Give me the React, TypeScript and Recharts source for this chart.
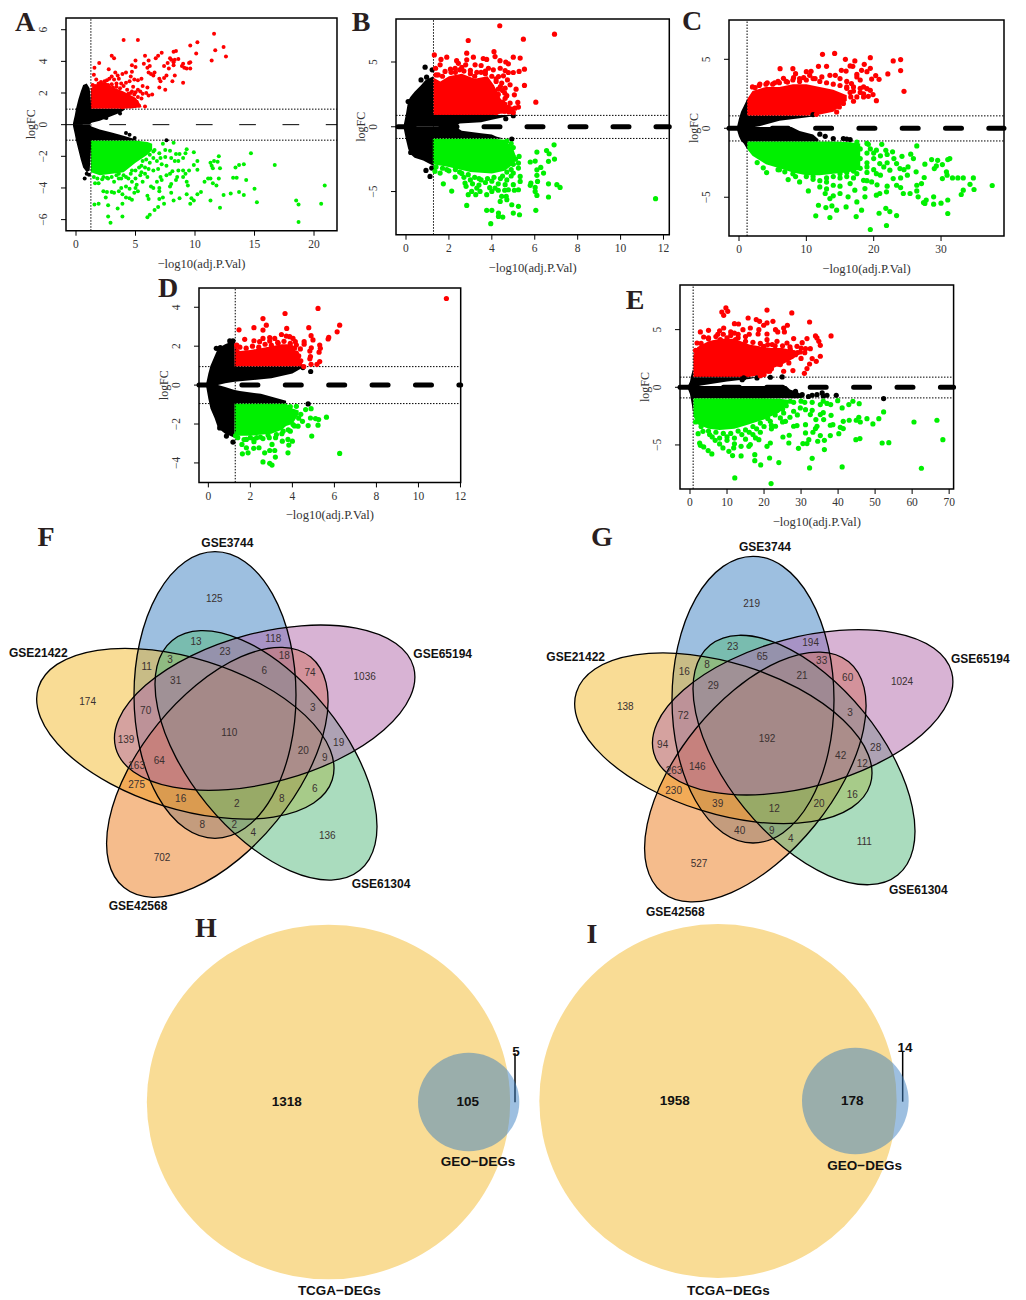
import {
  ComposedChart,
  ScatterChart,
  Scatter,
  Area,
  XAxis,
  YAxis,
  ReferenceLine,
  ReferenceArea,
} from "recharts";

type Pair = number[];

// ---- panel A ----
const aBlackUp = [[-0.25,0,0.1],[-0.1,0,0.6],[0,0,1.0],[0.2,0,1.6],[0.4,0,2.1],[0.6,0,2.5],[0.9,0,2.6],[1.15,0,2.3],[1.3,0.12,1],[2,0.25,1],[3,0.55,1],[3.7,0.75,1],[4.1,0.95,1]];
const aBlackDown = [[-0.25,-0.1,0],[-0.1,-0.6,0],[0,-1.0,0],[0.2,-1.6,0],[0.4,-2.2,0],[0.6,-2.7,0],[0.9,-3.0,0],[1.15,-2.9,0],[1.3,-1,-0.12],[2,-1,-0.3],[3,-1,-0.5],[4,-1,-0.7],[5,-1,-0.92]];
const aRedBand = [[1.25,1,2.3],[1.8,1,2.6],[2.5,1,2.7],[3,1,2.4],[4,1,2.1],[5,1.05,1.7],[5.3,1.1,1.4],[5.5,1.1,1.15]];
const aGreenBand = [[1.25,-3,-1],[2,-3.2,-1],[3,-3.1,-1],[4,-3,-1],[5,-2.4,-1],[6,-1.9,-1.1],[6.4,-1.6,-1.2]];
const aBlack: Pair[] = [[7.6,-0.99],[0.73,-3.41],[1.09,-3.16],[4.2,-0.53],[4.5,-0.63],[4.93,-0.84],[2.55,0.42],[2.4,0.45],[3.7,0.7],[0.9,-3.1]];
const aRed: Pair[] = [[11.6,5.75],[4,5.35],[5.2,5.35],[12.4,4.9],[10.2,5.2],[9.6,5],[11.7,4.7],[10.1,4.5],[11.4,4.05],[12.6,4.3],[3,4.35],[3.2,4.2],[5.8,4.35],[7.2,4.55],[6.9,4.35],[6.7,4.2],[8.2,4.6],[8.4,4.65],[7.9,4.2],[8,4.1],[8.3,4.1],[8.6,4.15],[8.2,3.95],[9,3.85],[9.6,3.95],[9.5,3.9],[9.1,3.6],[9.3,3.55],[9.6,3.55],[8.9,3.7],[7.7,3.9],[8.2,3.75],[7.8,3.55],[7.4,3.7],[1.95,3.9],[1.55,3.6],[2.75,3.5],[5,4.05],[4.7,3.75],[5,3.65],[6.1,4.05],[5.7,3.85],[6.2,3.7],[6,3.6],[6.1,3.3],[6.3,3.2],[6.5,3.1],[6.6,3.3],[7,2.9],[7.4,2.95],[7.1,2.75],[7.6,3.1],[8.1,2.75],[8.3,3.1],[9,2.65],[7,2.35],[7.5,2.2],[6,2.35],[6.4,1.9],[6.1,1.85],[5.8,1.15],[5.1,1.45],[1.5,3.15],[1.7,2.85],[2.1,2.7],[2.6,2.8],[3,3.05],[3.3,3.3],[3.5,3.1],[3.6,2.9],[3.2,2.85],[2.8,2.9],[3.9,3.2],[4.2,3.3],[4.7,3.35],[4.6,3.05],[4.9,2.85],[4.5,2.75],[4.2,2.65],[3.8,2.6],[3.4,2.6],[3,2.55],[5.5,2.9],[5.2,2.8],[5.6,2.45],[5.2,2.2],[4.8,2.4],[5.4,2.1],[5,2.05],[4.7,2.1],[4.4,1.95],[5.5,1.65]];
const aRedMore: Pair[] = [[1.4,2.5],[1.6,2.45],[1.9,2.6],[2.2,2.55],[2.4,2.75],[2.7,2.5],[3.1,2.35],[3.4,2.4],[3.7,2.3],[4,2.45],[4.3,2.2],[4.6,2],[4.9,1.9],[5.2,1.75],[5.6,1.95],[5.9,2],[4.1,1.8],[4.4,1.5],[4.7,1.6],[5,1.3],[5.3,1.2],[4.6,1.15],[3.9,1.1]];
const aGreen: Pair[] = [[20.9,-3.85],[16.7,-2.55],[14.7,-1.8],[12,-2],[11.9,-2.35],[11.6,-2.3],[11.3,-2.4],[11.4,-2.6],[11.5,-2.75],[12.1,-2.75],[14.1,-2.5],[13.7,-2.55],[13.4,-2.7],[13.2,-3.35],[13.5,-3.35],[14.3,-3.5],[11.3,-3.4],[11.1,-3.4],[12,-3.4],[10.8,-3.6],[11.5,-3.7],[11.8,-3.85],[15,-4.05],[13.7,-4.25],[14.1,-4.45],[13,-4.35],[12.4,-4.45],[10.5,-4.25],[10.2,-4.4],[9.7,-4.65],[9.9,-4.8],[11.3,-4.8],[15.2,-4.9],[9.6,-5],[18.5,-4.8],[18.7,-5.05],[20.6,-5],[18.7,-6.15],[12.1,-5.25],[9.3,-4.4],[8.7,-4.65],[8,-4.3],[8.2,-4.8],[6,-5.85],[6.2,-5.7],[6.6,-5.4],[6.9,-5.2],[7.4,-5],[7,-4.7],[7.3,-4.6],[2.7,-5.1],[1.55,-5.05],[1.9,-5],[2.7,-5.8],[2.9,-6.2],[3.9,-5.8],[3.5,-5.3],[3.9,-5],[2.5,-4.6],[4.2,-4.6],[4.5,-4.65],[4.7,-4.75],[2.3,-4.2],[2.6,-4.25],[3,-4.25],[3.2,-4.3],[3.6,-4.2],[3.8,-4],[3.9,-4.4],[4.5,-4.05],[5,-4],[5.2,-4.2],[6,-4.5],[6.1,-4.7],[6.5,-4],[7,-4],[7,-4.2],[7.9,-3.9],[5.5,-1.2],[5.6,-1.6],[6,-1.3],[6.6,-1.6],[7,-1.8],[7.3,-1.2],[7.5,-1.6],[8.2,-1.15],[7.9,-1.65],[8.4,-1.85],[8.7,-1.85],[9.2,-1.8],[9.3,-1.55],[9.9,-1.75],[8,-2.1],[7.5,-2.05],[8.3,-2.3],[9,-2.1],[8.6,-2.3],[9.9,-2.55],[10.2,-2.3],[10.2,-2.85],[9.5,-2.9],[9,-2.9],[9.2,-3.1],[8.6,-2.9],[8.1,-2.95],[7.9,-3.1],[8.5,-3.3],[9,-3.3],[9.3,-3.6],[9.4,-3.85],[8.4,-3.5],[8,-3.75],[7.6,-3.2],[7.1,-3.3],[6.8,-3.6],[7.2,-3.5],[6.5,-2.9],[6.9,-2.8],[7.2,-2.5],[7.6,-2.6],[6.2,-2.4],[6.5,-2.1],[5.8,-2.7],[5.5,-2.6],[6,-3.3],[5.4,-3.2],[5.6,-3.6],[6.3,-3.9],[5,-3.4],[4.7,-3.6],[4.4,-3.4],[4,-3.2],[3.6,-3.4],[3.2,-3.6],[2.7,-3.4],[2.2,-3.45],[1.6,-3.7],[1.9,-3.7],[3.6,-3.1],[5.1,-3.8],[4.9,-4.3],[4.2,-3.9]];
const aGreenMore: Pair[] = [[1.5,-3.3],[1.8,-3.4],[2.3,-3.3],[2.6,-3.35],[3,-3.3],[3.4,-3.2],[3.8,-3.4],[4.2,-3.3],[4.6,-3.1],[5,-2.9],[5.3,-2.7],[5.6,-2.3],[5.9,-2.2],[6.2,-1.9],[6.5,-1.7],[6.8,-2.3],[7.1,-2.1],[5.5,-3],[5.8,-3.1],[6.1,-2.8],[4.7,-2.9],[5.2,-1.3],[5.9,-1.6]];

// ---- panel B ----
const bBlackUp = [[-0.1,0,0.2],[0,0,1],[0.1,0,2],[0.2,0,2.3],[0.4,0,2.7],[0.7,0,3.2],[0.9,0,3.6],[1.27,0,3.9],[1.28,0,0.9],[2.3,0,0.9],[2.5,0.25,0.9],[3.5,0.35,0.9],[4,0.55,0.9],[4.6,0.75,0.9],[4.9,0.88,0.9]];
const bBlackDown = [[-0.1,-0.2,0],[0,-1,0],[0.1,-1.7,0],[0.2,-2.1,0],[0.4,-2.4,0],[0.8,-2.6,0],[1.27,-3,0],[1.28,-0.9,0],[2.3,-0.9,0],[2.6,-0.9,-0.3],[3.5,-0.9,-0.5],[4,-0.9,-0.6],[4.2,-0.9,-0.75],[4.5,-0.92,-0.88]];
const bRedBand = [[1.27,0.9,3.8],[1.6,0.9,3.5],[2,0.9,3.9],[2.6,0.9,4.1],[3.2,0.9,3.7],[3.8,0.9,3.9],[4.1,0.9,3.2],[4.4,1,2.2],[4.7,1.05,1.5],[5.1,1.1,1.2]];
const bGreenBand = [[1.25,-2.9,-0.9],[2,-3.1,-0.9],[3,-3.5,-0.9],[4,-3.6,-0.9],[4.6,-3.4,-1],[5,-2.9,-1.7],[5.1,-2.6,-2.2]];
const bBlack: Pair[] = [[0.89,4.6],[1.22,4.4],[0.7,3.62],[0.96,3.83],[0.93,-3.37],[1.12,-3.83],[1.2,-3.19],[0.22,-1.98],[5,0.85],[4.65,0.62],[4.93,-0.95],[0.1,1.95]];
const bRed: Pair[] = [[4.37,7.8],[6.92,7.15],[5.47,6.76],[2.9,6.66],[1.32,5.55],[1.63,5.2],[1.9,5.37],[2.83,5.68],[4.1,5.8],[3.14,5.37],[4.15,5.42],[3.6,5.27],[3.76,5.2],[4.38,5.1],[5,5.37],[5.32,5.3],[4.65,5],[4.77,4.86],[2.36,5.1],[2.44,4.9],[2.83,5.17],[2.78,4.78],[1.59,4.78],[1.38,4.52],[1.82,4.27],[2.07,4.45],[2.29,4.52],[2.6,4.58],[3.22,4.78],[3.5,4.73],[3.84,4.52],[4.07,4.4],[4.39,4.52],[4.62,4.34],[4.77,4.19],[5,4.19],[5.27,4.27],[5.52,4.45],[5.52,3.19],[5.13,2.9],[5.05,2.47],[6.05,1.9],[5.21,1.88],[4.85,3.24],[4.62,2.98],[4.73,3.62],[4.46,3.37],[4.31,3.88],[4.54,3.93],[4.62,2.2],[4.85,1.83],[4.77,1.52],[5.08,1.44],[5.24,1.52],[4.93,1.36],[4.46,1.57],[3,4.35],[3.3,4.2],[3.7,4.3],[2.3,4.2],[1.5,4],[4.2,3.7],[4.5,2.8],[4.3,2.5],[4.6,1.75]];
const bRedMore: Pair[] = [[1.4,4],[1.7,3.9],[2.1,4.2],[2.5,4.4],[2.7,4.3],[3,4.1],[3.2,3.9],[3.5,4.2],[3.7,4.1],[4,3.9],[4.2,3.5],[4.4,3.1],[4.6,2.6],[4.7,2.4],[4.3,2.9],[4.5,1.9],[4.4,1.3],[4.6,1.2],[4.8,1.15],[5,1.1],[4.2,1.1]];
const bGreen: Pair[] = [[6.9,-1.39],[6.1,-1.95],[6.55,-1.83],[6.67,-2.08],[6.02,-2.65],[5.79,-2.72],[6.64,-2.67],[6.92,-2.49],[6.28,-3.14],[6.1,-3.32],[6.41,-3.57],[6.1,-3.75],[6.13,-4.22],[5.82,-4.34],[5.79,-4.52],[6.64,-4.4],[7.03,-4.47],[7.18,-4.68],[6.02,-4.68],[6.02,-4.99],[6.1,-5.3],[6.64,-5.42],[11.63,-5.55],[6.05,-6.45],[5.24,-6.14],[5.29,-6.79],[5,-6.66],[4.93,-6.02],[3.95,-7.48],[4.51,-6.97],[4.31,-6.92],[4.31,-6.66],[4,-6.45],[3.76,-6.45],[2.83,-6.07],[1.74,-4.4],[2.13,-4.96],[2.29,-3.88],[2.75,-4.34],[2.9,-5.24],[3.06,-4.99],[3.3,-4.73],[3.25,-5.24],[3.45,-4.99],[3.76,-5.24],[4,-4.99],[4.15,-4.73],[4.46,-5.37],[4.39,-5.76],[4.7,-5.63],[4.67,-5.37],[4.77,-4.86],[5,-4.47],[5.24,-4.86],[4.62,-4.47],[5.32,-3.83],[5.32,-4.22],[5,-3.57],[5.24,-3.19],[5.24,-2.8],[5.27,-2.29],[1.35,-3.44],[1.59,-3.57],[1.9,-3.3],[2.5,-3.5],[2.8,-4.6],[3,-4.1],[3.4,-4],[3.7,-4.3],[4,-4.2],[4.3,-4.4],[4.7,-4.1],[4.9,-3.8],[4.5,-3.8],[5,-2.3]];
const bGreenMore: Pair[] = [[1.4,-3.1],[1.7,-3.2],[2,-3.4],[2.3,-3.3],[2.6,-3.6],[2.9,-3.7],[3.2,-3.9],[3.5,-4.1],[3.8,-4],[4.1,-3.9],[4.4,-4],[4.7,-3.5],[4.9,-3.3],[5,-2.9],[5.1,-2.5],[3.1,-4.4],[3.4,-4.5],[3.9,-4.7],[4.3,-4.9],[4.6,-4.9],[5.05,-4.9],[2.7,-3.9],[5,-1.6],[4.9,-1.3],[4.7,-1.1]];

// ---- panel C ----
const cBlackUp = [[-0.3,0,0.1],[0,0,0.7],[0.3,0,1.2],[0.7,0,1.6],[1.2,0,2.1],[1.21,0,0.9],[1.4,0.02,0.9],[3,0.15,0.9],[6,0.55,0.9],[9,0.72,0.9],[11,0.86,0.9]];
const cBlackDown = [[-0.3,-0.1,0],[0,-0.6,0],[0.3,-0.9,0],[0.7,-1.1,0],[1.2,-1.5,0],[1.21,-0.95,0.1],[7.8,-0.95,0.1],[9,-0.95,-0.2],[11,-0.95,-0.45],[11.8,-0.95,-0.8]];
const cRedBand = [[1.2,0.9,2.1],[2,0.9,2.7],[4,0.9,3],[6,0.9,3],[8,0.9,3.2],[10,0.9,3.2],[12,1,3],[14,1.2,2.8],[15,1.6,2.6],[16,2,2.4]];
const cGreenBand = [[1.2,-1.5,-0.95],[2,-2,-0.95],[4,-2.6,-0.95],[6,-2.9,-0.95],[8,-3.2,-0.95],[10,-3.4,-0.95],[12,-3.4,-0.95],[14,-3.3,-0.95],[16,-3.2,-1],[18,-3,-1.1]];
const cBlack: Pair[] = [[12,-0.43],[12.8,-0.58],[14,-0.75],[15.5,-0.75],[16.5,-0.82],[16,-0.78],[11,0.99]];
const cRed: Pair[] = [[12.4,5.36],[14.2,5.43],[19.5,5.12],[15.8,5],[17.2,4.88],[22.9,4.88],[24,4.98],[18.6,4.64],[19.5,4.35],[11.8,4.49],[13,4.49],[16.5,4.52],[16.9,4.49],[15.2,4.2],[15.9,4.15],[18.2,4.2],[17.5,3.91],[19,4.1],[20.3,3.82],[22.1,3.94],[24,4.18],[6.1,4.32],[8,4.32],[8.4,3.96],[10,4.1],[10.7,4.13],[6.6,3.62],[8.1,3.67],[3.1,3.21],[4.2,3.3],[5.3,3.3],[5.8,3.4],[20.8,3.55],[19.7,3.57],[24.5,2.68],[20.4,2],[19.9,2.44],[19.2,2.32],[18.5,2.27],[17,1.96],[17.5,2.27],[16.6,2.27],[14.5,1.18],[14.9,1.55],[11.5,1.01],[13.3,1.43],[19,2.87],[19.5,2.75],[18.5,3],[18,3.5],[16.7,3.24],[17.5,3.72],[16,3.4],[15,3.6],[14.3,3.84],[13.5,3.84],[12.3,3.72],[11.3,3.6],[10.5,3.84],[9.6,3.67],[2.4,2.95],[7.2,3.35],[9,3.4],[16,2.9],[17,2.7],[18,2.6],[15.5,2.2]];
const cRedMore: Pair[] = [[2,3],[3,3.1],[4,3.2],[5,3.2],[6,3.3],[7,3.4],[8,3.5],[9,3.6],[10,3.5],[11,3.6],[12,3.4],[13,3.3],[14,3.2],[15,3.1],[16,3],[17,3],[18,2.9],[14,2.4],[15,2.1],[15.5,1.8],[13.5,1.6],[12.5,1.3],[16.5,2.6],[18.5,2.5]];
const cGreen: Pair[] = [[19.5,-7.34],[21.9,-7.05],[13.5,-6.47],[11.4,-6.35],[17.4,-6.4],[20.8,-6.16],[21.8,-5.8],[22.4,-6.04],[23.4,-6.33],[31,-6.18],[31,-5.2],[30,-5.43],[28.9,-5.5],[28.9,-4.97],[27.8,-5.2],[27.4,-5.38],[27.6,-5.45],[37.6,-4.15],[34.9,-4.44],[34.8,-3.6],[34.3,-4.06],[33.3,-4.49],[33,-4.8],[33.3,-3.6],[32.5,-3.6],[31.7,-3.6],[30.8,-3.16],[30.2,-3.65],[30.9,-3.4],[30.2,-2.63],[31,-2.27],[31.3,-2.2],[29.5,-2.32],[28.6,-2.27],[29.3,-2.73],[27.6,-2.6],[29,-2.92],[26.4,-1.28],[25.5,-1.88],[25.9,-2.2],[25.1,-2.8],[26.3,-3.16],[27.5,-3.57],[27.1,-4.01],[26.4,-4.13],[26.4,-4.54],[25.4,-4.73],[26.6,-4.97],[24.4,-4.73],[22.8,-1.71],[24.2,-2.03],[23.4,-2.56],[23.9,-2.92],[22.4,-3.04],[22.9,-3.65],[23.4,-4.13],[21.9,-4.61],[20.9,-4.73],[20.4,-4.85],[21.2,-1.16],[20.4,-1.59],[19.2,-1.16],[20.9,-2.56],[20.4,-3.29],[19.7,-3.89],[18.7,-4.37],[18.7,-4.97],[17.5,-5.34],[18.2,-5.94],[15.9,-5.7],[14.5,-5.94],[13.8,-5.63],[12.9,-5.75],[11.8,-5.58],[10.3,-4.54],[12.8,-4.73],[13.5,-5.1],[16.2,-4.97],[15,-4.73],[17.2,-4.49],[16.5,-4.01],[14,-4.13],[18.5,-3.77],[17.5,-3.29],[12,-4.25],[9,-3.89],[7.3,-3.72],[4.1,-3.21],[3.6,-2.87],[2.7,-2.49],[5.8,-3],[6.8,-3.16],[8.4,-3.5],[11,-3.7],[13,-3.9],[15,-3.6],[16,-3.5],[19,-2.8],[18,-2.2],[19,-1.8],[20,-2.2],[21.5,-2.8],[19,-3.2]];
const cGreenMore: Pair[] = [[13,-3.6],[14,-3.5],[15,-3.3],[16,-3.2],[17,-3.1],[18,-2.9],[19,-2.5],[20,-3],[21,-3.4],[22,-2.5],[21,-2],[22,-1.9],[23,-2.2],[24.5,-3],[24,-3.6],[25,-3.4],[19,-3.8],[20.5,-4.1],[22,-4.2],[24,-4.3],[17,-3.6],[15,-4.2],[13,-4.4],[14,-4.9],[12,-3.8],[11,-3.5],[10,-3.5],[8,-3.3],[6,-3],[18,-1.5],[19.5,-1.5],[19,-1.1],[17.5,-1],[16.5,-1.2],[20,-1.8],[21.8,-1.6]];

// ---- panel D ----
const dBlackUp = [[-0.1,0,0.1],[0,0,0.6],[0.1,0,1],[0.3,0,1.5],[0.46,0,1.9],[0.8,0.1,2.1],[1.25,0.17,2.3],[1.26,0.17,0.95],[1.5,0.2,0.95],[3,0.35,0.95],[4,0.6,0.95],[4.5,0.9,0.95]];
const dBlackDown = [[-0.1,-0.1,0],[0,-0.7,0],[0.1,-1.2,0],[0.3,-1.7,0],[0.46,-2.2,0],[0.8,-2.5,-0.1],[1.25,-2.7,-0.25],[1.26,-0.95,-0.25],[1.5,-0.95,-0.3],[2.5,-0.95,-0.45],[3.7,-0.95,-0.8]];
const dRedBand = [[1.25,0.95,2.1],[1.5,0.95,1.75],[2,0.95,1.8],[3,0.95,2],[3.5,0.95,2.1],[4,0.95,2.1],[4.2,0.95,1.6],[4.5,0.95,1.05]];
const dGreenBand = [[1.25,-2.6,-0.95],[2,-2.6,-0.95],[3,-2.5,-0.95],[3.5,-2.3,-0.95],[3.7,-2.1,-0.95],[4,-2,-1.2],[4.3,-1.5,-1.3]];
const dBlack: Pair[] = [[4.87,0.7],[4.75,-0.97],[4.5,0.9],[0.54,-2.2],[0.86,-2.62],[1.17,-2.93],[0.38,1.89],[1.02,2.27],[1.17,2.27],[0.57,1.93]];
const dRed: Pair[] = [[11.33,4.45],[5.22,3.94],[3.65,3.68],[2.6,3.42],[2.76,3.08],[1.46,2.84],[2.17,2.95],[2.6,2.83],[3.73,2.91],[4.78,2.95],[6.25,3.08],[6.13,2.74],[5.73,2.45],[5.7,2.37],[4.89,2.54],[4.98,2.32],[3.48,2.6],[3.71,2.52],[3.87,2.49],[1.73,2.35],[2.17,2.28],[2.44,2.23],[2.6,2.4],[2.92,2.44],[3.16,2.4],[2.92,2.27],[3.32,2.15],[4.03,2.4],[4.14,2.23],[4.19,2.06],[4.56,2.23],[4.56,2.1],[4.38,1.86],[4.19,1.64],[4.03,1.47],[5.3,2.06],[5.33,1.89],[5.27,1.69],[4.9,1.92],[4.83,1.75],[4.86,1.47],[4.83,1.35],[5.3,1.21],[5.17,1.07],[4.89,1.07],[4.27,1.29],[4.54,0.95]];
const dRedMore: Pair[] = [[1.5,1.95],[1.8,1.9],[2.1,2],[2.4,1.95],[2.7,2.1],[3,2.05],[3.3,2.2],[3.6,2.25],[3.9,2.15],[4.1,1.9],[4.3,1.5],[4.4,1.25],[4.2,1.2],[1.35,2.05]];
const dGreen: Pair[] = [[6.25,-3.51],[5.62,-1.65],[5.22,-2.06],[5.25,-1.77],[5.1,-1.72],[4.86,-1.69],[4.75,-2.08],[4.92,-2.62],[4.89,-1.21],[4.63,-1.26],[4.19,-1.09],[4.48,-1.86],[4.27,-2.11],[4.03,-2.03],[3.9,-2.37],[3.79,-2.79],[4,-2.88],[3.83,-3.08],[3.79,-3.48],[3.19,-3.7],[3.03,-3.05],[3.16,-3.36],[2.92,-3.36],[2.68,-3.48],[2.6,-3.95],[2.92,-4.02],[3.03,-4.11],[2.41,-3.22],[2.16,-3.25],[1.81,-3.22],[1.89,-3.48],[1.62,-3.53],[1.6,-3.05],[1.81,-2.79],[2.17,-2.79],[2.17,-2.91],[2.48,-2.67],[2.84,-2.57],[3.24,-2.54],[3.52,-2.88],[3.56,-2.37]];
const dGreenMore: Pair[] = [[1.4,-2.7],[1.7,-2.8],[2,-2.7],[2.3,-2.7],[2.6,-2.75],[2.9,-2.7],[3.2,-2.7],[3.5,-2.5],[3.8,-2.3],[4.1,-2.1],[4.3,-1.7],[4.4,-1.5],[3.7,-1.9],[4.1,-1.4],[3.9,-1.1],[1.3,-2.6]];

// ---- panel E ----
const eBlackUp = [[-0.6,0,0.1],[0,0,0.5],[0.3,0,1],[0.85,0,1.6],[0.86,0,0.88],[3,0.15,0.88],[10,0.5,0.88],[16,0.72,0.88],[18,0.85,0.88]];
const eBlackDown = [[-0.6,-0.1,0],[0,-0.6,0],[0.5,-1.5,0],[0.85,-2.2,0],[0.86,-0.95,0.12],[26,-0.95,0.12],[27,-0.95,-0.2],[29,-0.95,-0.4],[30.5,-0.9,-0.7]];
const eRedBand = [[0.9,0.9,2.8],[2,0.9,3.5],[5,0.9,4],[8,0.9,4.2],[12,0.9,4.2],[16,0.9,3.7],[20,1.1,3.5],[22,1.6,3.4],[25,2,3.4],[28,2.5,3.2],[29,2.8,3.1]];
const eGreenBand = [[0.9,-2.5,-0.95],[2,-3.2,-0.95],[5,-3.6,-0.95],[8,-3.7,-0.95],[12,-3.6,-0.95],[16,-3.2,-0.95],[20,-2.8,-0.95],[24,-2.2,-1],[26,-1.6,-1.05],[27,-1.3,-1.1]];
const eBlack: Pair[] = [[52.3,-0.98],[39.5,-0.69],[35.7,-0.49],[34.3,-0.64],[33,-0.69],[37,-0.69],[28.5,-0.35],[30.3,-0.64],[21.7,0.87],[24.9,0.9],[18.1,0.81],[14.1,0.66],[14.5,0.81],[32,-0.8],[36,-0.75]];
const eRed: Pair[] = [[9.7,6.88],[10.2,6.59],[8.6,6.53],[9.1,6.24],[20.8,6.7],[27.5,6.45],[15.7,6.01],[32.3,5.66],[17.9,5.87],[18.8,5.72],[22.4,5.72],[20.8,5.58],[19.9,5.38],[26.3,5.38],[12,5.52],[13.1,5.49],[9.1,5.14],[5,4.94],[2.8,4.8],[14.3,5],[16.3,5.14],[18.6,5],[23.1,5],[25.3,5.14],[25.5,4.8],[23.7,4.8],[18.4,4.62],[20.8,4.62],[3.7,4.36],[5,4.28],[38.1,4.45],[33.9,4.45],[34.3,4.28],[34.8,3.99],[35.2,3.64],[31.6,4.22],[30.3,3.87],[28,4.22],[1.9,3.84],[32.5,3.35],[31.2,3.35],[29.8,3.06],[35.2,2.69],[33,2.49],[34.1,2.25],[32.3,2.02],[31.6,1.62],[30.9,1.21],[27.8,1.45],[26.7,2.11],[25.3,1.39],[24.4,1.97],[20.8,4.13],[23.5,3.99],[26.2,3.84],[27.1,3.27],[28.9,3.55],[28.5,2.83],[22.2,3.7],[19.9,3.55],[15,3.99],[12.3,4.13],[10,4.28],[8.2,4.13],[6.4,3.84],[11,4.8],[13,4.6],[7.5,4.6],[30,3.4],[23,2.2],[21.5,1.4]];
const eRedMore: Pair[] = [[1.5,3.2],[3,3.8],[5,4.2],[7,4.4],[9,4.6],[11,4.5],[13,4.3],[15,4.4],[17,3.9],[19,3.8],[21,3.7],[23,3.6],[25,3.6],[27,3.5],[28,3],[29,3],[31,3],[30,2.5],[26,2.5],[24,2],[22,1.6],[21,1.4],[20,1.1],[19,1],[8,4.9],[12,4.7],[16,4.6]];
const eGreen: Pair[] = [[21.9,-8.35],[12.1,-7.86],[19.1,-6.73],[17.5,-6.36],[17.5,-5.84],[21.5,-6.13],[24,-6.53],[32.3,-6.99],[33,-6.16],[41.1,-6.91],[62.5,-7.02],[68.3,-4.54],[66.7,-2.86],[60.5,-3.01],[53.7,-4.8],[51.9,-4.83],[52.3,-2.14],[51,-2.72],[49.4,-3.18],[47.8,-2.72],[45.6,-2.6],[44.9,-2.86],[46,-3.01],[45.9,-4.45],[44.8,-4.54],[43,-2.86],[41.4,-2.95],[41.4,-3.58],[40.6,-3.47],[40.2,-4.02],[37.9,-4.19],[38.6,-3.24],[37.9,-3.29],[38.1,-2.43],[36.1,-2.8],[34.3,-3.38],[33.9,-3.58],[35.2,-4.19],[33.2,-3.9],[36.3,-4.6],[36.3,-5.4],[34.5,-4.68],[32.1,-4.54],[31.6,-4.88],[30.5,-4.88],[29.3,-5.29],[31.2,-3.96],[28.9,-3.32],[28,-3.38],[31.2,-3.24],[26.7,-4.83],[26.8,-4.16],[25.1,-4.31],[23.1,-3.38],[21.7,-4.83],[20.8,-5.12],[17.7,-4.39],[18.6,-4.54],[16.3,-4.97],[15.9,-5.12],[13.8,-5.12],[11.8,-5.26],[10.5,-5.55],[11.5,-5.92],[13.8,-5.95],[8.9,-5.26],[8,-4.91],[6.8,-4.6],[5.9,-5.78],[4.9,-5.49],[3.7,-5.17],[2.6,-4.83],[2.8,-5.03],[2.2,-4.02],[3.5,-3.82],[5.3,-4.1],[39.9,-1.16],[41.1,-1.79],[42.9,-1.5],[44,-1.21],[45.7,-1.42],[35.2,-1.5],[35.2,-2.37],[32.5,-2.37],[31.2,-1.94],[29.8,-1.79],[27.1,-1.21],[28,-2.08],[25.3,-2.23],[24.4,-2.66],[25.8,-2.95],[21.7,-2.95],[23.5,-1.79],[10,-4.3],[12,-4.4],[14,-4.1],[16,-3.9],[18,-3.6],[20,-3.4],[22,-3.6],[30,-1.2],[33,-1.3],[36,-1.2],[38,-1.5]];
const eGreenMore: Pair[] = [[1.5,-3],[3,-3.4],[5,-3.8],[7,-3.9],[9,-4],[11,-4],[13,-3.8],[15,-3.7],[17,-3.4],[19,-3.1],[21,-2.7],[23,-2.4],[25,-1.9],[26,-1.6],[28,-1.3],[24,-1.2],[6,-4.3],[8,-4.4],[10,-4.6],[12,-4.9],[15,-4.5],[17,-4.1],[19,-3.9],[22,-3.3],[25,-3],[27,-2.6],[29,-2.4],[31,-1.3],[33,-2],[34,-2.8],[37,-1.4],[36,-2.2]];

const xTicksA = [0, 5, 10, 15, 20];
const yTicksA = [-6, -4, -2, 0, 2, 4, 6];
const xTicksB = [0, 2, 4, 6, 8, 10, 12];
const yTicksB = [-5, 0, 5];
const xTicksC = [0, 10, 20, 30];
const xTicksD = [0, 2, 4, 6, 8, 10, 12];
const yTicksD = [-4, -2, 0, 2, 4];
const xTicksE = [0, 10, 20, 30, 40, 50, 60, 70];

// five-set venn, counts and where they sit (in 3x crop units of each panel)
const vennSets = ["GSE3744", "GSE21422", "GSE65194", "GSE61304", "GSE42568"];
const fCounts = [125,13,118,23,18,3,11,6,74,31,1036,174,70,3,139,110,19,20,64,9,163,275,6,16,2,8,8,2,4,136,702];
const gCounts = [219,23,194,65,33,8,16,21,60,29,1024,138,72,3,94,192,28,42,146,12,263,230,16,39,12,20,40,9,4,111,527];
const fSpots = [[643,236],[588,365],[820,356],[675,395],[853,407],[510,418],[440,440],[793,452],[930,458],[527,482],[1094,470],[263,545],[437,572],[938,563],[378,658],[688,638],[1016,668],[910,692],[478,722],[974,713],[410,737],[410,794],[944,806],[542,836],[710,851],[845,836],[607,914],[703,914],[760,938],[982,946],[486,1013]];
const gSpots = [[665,250],[608,380],[842,368],[697,410],[875,422],[531,433],[463,455],[816,467],[953,473],[550,497],[1116,485],[286,560],[460,587],[960,578],[398,673],[711,655],[1037,683],[932,707],[502,740],[997,730],[432,752],[431,811],[967,824],[563,851],[733,866],[867,851],[629,932],[725,932],[782,956],[1003,965],[507,1030]];
const fNameSpots = [[682,68],[115,400],[1328,402],[1143,1093],[414,1158]];
const gNameSpots = [[705,82],[137,412],[1351,416],[1165,1111],[436,1175]];

// petals: centre x, centre y, semi axes, rotation, colour. Order matters, the blend only comes out right like this
const petals = [
  { x: 645, y: 525, a: 243, b: 430, rot: 0, color: "#3b7fc1" },
  { x: 556, y: 641, a: 462, b: 226, rot: 17.4, color: "#f3b92b" },
  { x: 652, y: 757, a: 445, b: 230, rot: -51, color: "#eb7919" },
  { x: 798, y: 706, a: 445, b: 230, rot: 50.8, color: "#55b97d" },
  { x: 794, y: 563, a: 463, b: 224, rot: -15.2, color: "#b167a9" },
];

const textColor = "#333";
const limeColor = "#00f000";
const serif = "'Liberation Serif', serif";
const sans = "'Liberation Sans', Arial, sans-serif";

const toPoints = (rows: Pair[]) => rows.map(([x, y]) => ({ x, y }));
const toBand = (rows: Pair[]) => rows.map(([x, lo, hi]) => ({ x, band: [lo, hi] }));

const minus = (v: number) => (v < 0 ? `\u2212${-v}` : `${v}`);

const RotatedTick = ({ x, y, payload }: any) => (
  <text x={x - 12} y={y} transform={`rotate(-90 ${x - 12} ${y})`} textAnchor="middle" fontSize={11.5} fontFamily={serif} fill={textColor}>
    {minus(payload.value)}
  </text>
);

const Dot = (r: number, color: string) => (p: any) => <circle cx={p.cx} cy={p.cy} r={r} fill={color} />;

const Volcano = ({ box, xDomain, yDomain, xTicks, yTicks, cutX, cutUp, cutDown, r, dash, dashW, dashOffset, blackUp, blackDown, redBand, greenBand, black, red, green }: any) => {
  const yAxisW = 50;
  const xAxisH = 42;
  const rightPad = 14;
  const w = box[2] - box[0];
  const h = box[3] - box[1];
  return (
    <div style={{ position: "absolute", left: box[0] - yAxisW, top: box[1] - 3 }}>
      <ComposedChart width={w + yAxisW + rightPad} height={h + 3 + xAxisH} margin={{ top: 3, right: rightPad, bottom: 0, left: 0 }}>
        <XAxis
          dataKey="x"
          type="number"
          domain={xDomain}
          ticks={xTicks}
          interval={0}
          allowDataOverflow
          axisLine={false}
          height={xAxisH}
          tickSize={5}
          tickMargin={4}
          tick={{ fontSize: 11.5, fontFamily: serif, fill: textColor }}
          tickLine={{ stroke: "#000", strokeWidth: 1 }}
          label={{ value: "\u2212log10(adj.P.Val)", position: "insideBottom", offset: 5, fontSize: 12.6, fontFamily: serif, fill: textColor }}
        />
        <YAxis
          dataKey="y"
          type="number"
          domain={yDomain}
          ticks={yTicks}
          interval={0}
          allowDataOverflow
          axisLine={false}
          width={yAxisW}
          tickSize={5}
          tick={<RotatedTick />}
          tickLine={{ stroke: "#000", strokeWidth: 1 }}
          label={{ value: "logFC", angle: -90, position: "insideLeft", offset: 15, fontSize: 12, fontFamily: serif, fill: textColor, style: { textAnchor: "middle" } }}
        />
        <Area data={toBand(blackUp)} dataKey="band" stroke="none" fill="#000" fillOpacity={1} isAnimationActive={false} dot={false} activeDot={false} />
        <Area data={toBand(blackDown)} dataKey="band" stroke="none" fill="#000" fillOpacity={1} isAnimationActive={false} dot={false} activeDot={false} />
        <Area data={toBand(redBand)} dataKey="band" stroke="none" fill="#ff0000" fillOpacity={1} isAnimationActive={false} dot={false} activeDot={false} />
        <Area data={toBand(greenBand)} dataKey="band" stroke="none" fill={limeColor} fillOpacity={1} isAnimationActive={false} dot={false} activeDot={false} />
        <Scatter data={toPoints(black)} shape={Dot(r, "#000")} isAnimationActive={false} />
        <Scatter data={toPoints(red)} shape={Dot(r, "#ff0000")} isAnimationActive={false} />
        <Scatter data={toPoints(green)} shape={Dot(r, limeColor)} isAnimationActive={false} />
        <ReferenceLine y={0} stroke="#000" strokeWidth={dashW} strokeDasharray={dash} strokeDashoffset={dashOffset} strokeLinecap={dashW > 2 ? "round" : "butt"} />
        <ReferenceLine y={cutUp} stroke="#000" strokeWidth={1} strokeDasharray="1.5 1.5" />
        <ReferenceLine y={cutDown} stroke="#000" strokeWidth={1} strokeDasharray="1.5 1.5" />
        <ReferenceLine x={cutX} stroke="#000" strokeWidth={1} strokeDasharray="1.5 1.5" />
        <ReferenceArea x1={xDomain[0]} x2={xDomain[1]} y1={yDomain[0]} y2={yDomain[1]} fill="none" stroke="#000" strokeWidth={1.5} />
      </ComposedChart>
    </div>
  );
};

const Petal = (filled: boolean) => (p: any) => {
  const d = p.payload;
  const k = d.unit;
  return (
    <ellipse
      cx={p.cx}
      cy={p.cy}
      rx={d.a * k}
      ry={d.b * k}
      transform={`rotate(${d.rot} ${p.cx} ${p.cy})`}
      fill={filled ? d.color : "none"}
      fillOpacity={filled ? d.opacity : 0}
      stroke={filled ? "none" : "#000"}
      strokeWidth={1.3}
    />
  );
};

const Word = (size: number, weight: string | number, color: string) => (p: any) => (
  <text x={p.cx} y={p.cy} textAnchor="middle" dominantBaseline="central" fontSize={size} fontWeight={weight} fontFamily={sans} fill={color}>
    {p.payload.label}
  </text>
);

const CropChart = ({ left, top, width, height, children }: any) => (
  <div style={{ position: "absolute", left, top }}>
    <ScatterChart width={width} height={height} margin={{ top: 0, right: 0, bottom: 0, left: 0 }}>
      <XAxis dataKey="x" type="number" domain={[0, width * 3]} hide />
      <YAxis dataKey="y" type="number" domain={[0, height * 3]} reversed hide />
      {children}
    </ScatterChart>
  </div>
);

const labelled = (spots: Pair[], labels: (string | number)[]) => spots.map(([x, y], i) => ({ x, y, label: labels[i] }));

const fiveWay = (left: number, top: number, width: number, dx: number, dy: number, counts: number[], spots: Pair[], names: Pair[]) => {
  const rows = petals.map((p) => ({ ...p, x: p.x + dx, y: p.y + dy, unit: 1 / 3, opacity: 0.5 }));
  return (
    <CropChart left={left} top={top} width={width} height={400}>
      <Scatter data={rows} shape={Petal(true)} isAnimationActive={false} />
      <Scatter data={rows} shape={Petal(false)} isAnimationActive={false} />
      <Scatter data={labelled(spots, counts)} shape={Word(10, 400, "#3a3030")} isAnimationActive={false} />
      <Scatter data={labelled(names, vennSets)} shape={Word(12, 700, "#111")} isAnimationActive={false} />
    </CropChart>
  );
};

const twoWay = (left: number, big: any, small: any, spots: Pair[], counts: string[], stemX: number, stemTop: number, stemBottom: number) => (
  <CropChart left={left} top={910} width={420} height={390}>
    <Scatter data={[{ ...big, unit: 1 / 3, rot: 0, color: "#f9dc95", opacity: 1 }]} shape={Petal(true)} isAnimationActive={false} />
    <Scatter data={[{ ...small, unit: 1 / 3, rot: 0, color: "#3b7fc1", opacity: 0.5 }]} shape={Petal(true)} isAnimationActive={false} />
    <ReferenceLine segment={[{ x: stemX, y: stemTop }, { x: stemX, y: stemBottom }]} stroke="#000" strokeWidth={1.5} />
    <Scatter data={labelled(spots.slice(0, 3), counts)} shape={Word(13.5, 700, "#111")} isAnimationActive={false} />
    <Scatter data={labelled(spots.slice(3), ["GEO\u2212DEGs", "TCGA\u2212DEGs"])} shape={Word(13.5, 700, "#111")} isAnimationActive={false} />
  </CropChart>
);

const panelLetters: [string, number, number][] = [
  ["A", 25, 22], ["B", 361, 22], ["C", 692, 21], ["D", 168, 288], ["E", 635, 300],
  ["F", 46, 537], ["G", 602, 537], ["H", 206, 928], ["I", 592, 934],
];

export default function App() {
  return (
    <div style={{ position: "absolute", left: 0, top: 0, width: 1026, height: 1300, background: "#fff", overflow: "hidden" }}>
      <Volcano box={[66.3, 18.3, 337.3, 231]} xDomain={[-0.84, 21.93]} yDomain={[-6.7, 6.74]} xTicks={xTicksA} yTicks={yTicksA} cutX={1.25} cutUp={0.98} cutDown={-0.98} r={2} dash="16.7 26.6" dashW={1} dashOffset={0} blackUp={aBlackUp} blackDown={aBlackDown} redBand={aRedBand} greenBand={aGreenBand} black={aBlack} red={[...aRed, ...aRedMore]} green={[...aGreen, ...aGreenMore]} />
      <Volcano box={[396, 19.3, 669.3, 235]} xDomain={[-0.466, 12.27]} yDomain={[-8.33, 8.32]} xTicks={xTicksB} yTicks={yTicksB} cutX={1.28} cutUp={0.88} cutDown={-0.9} r={2.6} dash="16 27" dashW={5} dashOffset={-2} blackUp={bBlackUp} blackDown={bBlackDown} redBand={bRedBand} greenBand={bGreenBand} black={bBlack} red={[...bRed, ...bRedMore]} green={[...bGreen, ...bGreenMore]} />
      <Volcano box={[729, 20, 1004, 236]} xDomain={[-1.485, 39.35]} yDomain={[-7.81, 7.85]} xTicks={xTicksC} yTicks={yTicksB} cutX={1.2} cutUp={0.9} cutDown={-0.92} r={2.6} dash="16 27.3" dashW={5} dashOffset={0} blackUp={cBlackUp} blackDown={cBlackDown} redBand={cRedBand} greenBand={cGreenBand} black={cBlack} red={[...cRed, ...cRedMore]} green={[...cGreen, ...cGreenMore]} />
      <Volcano box={[199.3, 288.3, 461, 482.7]} xDomain={[-0.445, 12.01]} yDomain={[-5, 4.99]} xTicks={xTicksD} yTicks={yTicksD} cutX={1.28} cutUp={0.95} cutDown={-0.95} r={2.6} dash="16 27.4" dashW={5} dashOffset={0.5} blackUp={dBlackUp} blackDown={dBlackDown} redBand={dRedBand} greenBand={dGreenBand} black={dBlack} red={[...dRed, ...dRedMore]} green={[...dGreen, ...dGreenMore]} />
      <Volcano box={[679.7, 285.3, 953.3, 489.3]} xDomain={[-2.7, 71.2]} yDomain={[-8.82, 8.87]} xTicks={xTicksE} yTicks={yTicksB} cutX={0.85} cutUp={0.88} cutDown={-0.92} r={2.6} dash="16 27.4" dashW={5} dashOffset={0} blackUp={eBlackUp} blackDown={eBlackDown} redBand={eRedBand} greenBand={eGreenBand} black={eBlack} red={[...eRed, ...eRedMore]} green={[...eGreen, ...eGreenMore]} />

      {fiveWay(0, 520, 480, 0, 0, fCounts, fSpots, fNameSpots)}
      {fiveWay(530, 520, 490, 24, 14, gCounts, gSpots, gNameSpots)}

      {twoWay(130, { x: 595.5, y: 576, a: 545, b: 532 }, { x: 1016, y: 576, a: 152, b: 148 }, [[470, 573], [1013, 573], [1158, 425], [1044, 753], [628, 1142]], ["1318", "105", "5"], 1155, 430, 577)}
      {twoWay(530, { x: 564, y: 573, a: 536, b: 531 }, { x: 976, y: 573, a: 160, b: 160 }, [[434, 571], [967, 571], [1125, 411], [1004, 767], [595, 1141]], ["1958", "178", "14"], 1118, 425, 575)}

      {panelLetters.map(([t, x, y]) => (
        <div key={t} style={{ position: "absolute", left: x, top: y, transform: "translate(-50%,-50%)", fontFamily: serif, fontWeight: 700, fontSize: 28, lineHeight: 1, color: "#2a1f1f" }}>
          {t}
        </div>
      ))}
    </div>
  );
}
